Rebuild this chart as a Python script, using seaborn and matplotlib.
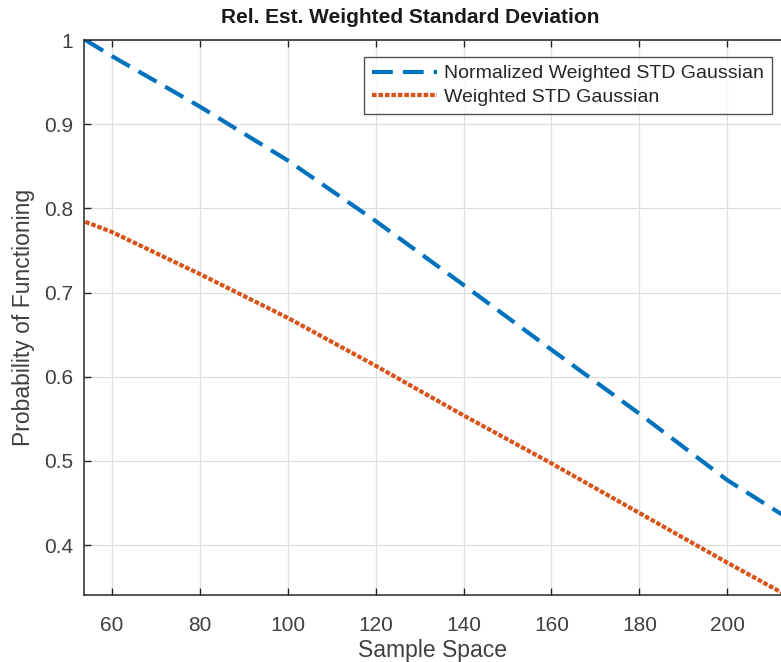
import numpy as np
import pandas as pd
import seaborn as sns
import matplotlib.pyplot as plt

# data
sample_space = [54, 60, 80, 100, 120, 140, 160, 180, 200, 212.5]
norm_std = [1.0, 0.981, 0.921, 0.857, 0.785, 0.709, 0.632, 0.556, 0.477, 0.436]
weighted_std = [0.784, 0.772, 0.722, 0.670, 0.613, 0.554, 0.497, 0.438, 0.379, 0.343]

xticks = [60, 80, 100, 120, 140, 160, 180, 200]
yticks = [0.4, 0.5, 0.6, 0.7, 0.8, 0.9, 1.0]
ytick_labels = ['0.4', '0.5', '0.6', '0.7', '0.8', '0.9', '1']

df = pd.DataFrame({'x': sample_space, 'norm': norm_std, 'w': weighted_std})

sns.set_style('white')
plt.rcParams['font.family'] = ['Liberation Sans', 'DejaVu Sans']

BLUE = '#0072BD'
ORANGE = '#D95319'
AX = '#262626'

fig = plt.figure(figsize=(7.81, 6.62), dpi=100)
ax = fig.add_axes([84/781, 67/662, 697/781, 555/662])

sns.lineplot(data=df, x='x', y='norm', ax=ax, color=BLUE, lw=3,
             label='Normalized Weighted STD Gaussian')
sns.lineplot(data=df, x='x', y='w', ax=ax, color=ORANGE, lw=3,
             label='Weighted STD Gaussian')
ax.lines[0].set_dashes((5, 2.4))
ax.lines[1].set_dashes((1.1, 0.45))

ax.set_xlim(53.7, 212.2)
ax.set_ylim(0.3406, 1.0)
ax.set_xticks(xticks)
ax.set_yticks(yticks)
ax.set_yticklabels(ytick_labels)

ax.grid(True, color='#dedede', lw=0.9)
ax.tick_params(direction='in', length=5, width=1, colors=AX, labelsize=15,
               top=True, bottom=True, left=True, right=False,
               labelcolor='#404040')
ax.tick_params(axis='x', pad=15)
ax.tick_params(axis='y', pad=8)
for s in ['left', 'bottom', 'top']:
    ax.spines[s].set_color(AX)
    ax.spines[s].set_linewidth(1.1)
ax.spines['right'].set_visible(False)

ax.set_xlabel('Sample Space', fontsize=16.5, color='#404040', labelpad=3)
ax.set_ylabel('Probability of Functioning', fontsize=16.5, color='#404040', labelpad=6)
ax.set_title('Rel. Est. Weighted Standard Deviation', fontsize=15, fontweight='bold',
             color='#1a1a1a', x=0.468, pad=12)

leg = ax.legend(loc='upper right', bbox_to_anchor=((772 - 84) / 697, 1 - 17 / 555),
                borderaxespad=0, fontsize=14, frameon=True, fancybox=False,
                handlelength=3.35, handletextpad=0.36, borderpad=0.4, labelspacing=0.3,
                edgecolor=AX)
leg.get_frame().set_linewidth(1.0)
for t in leg.get_texts():
    t.set_color('#262626')

fig.savefig('out.png', dpi=100)
